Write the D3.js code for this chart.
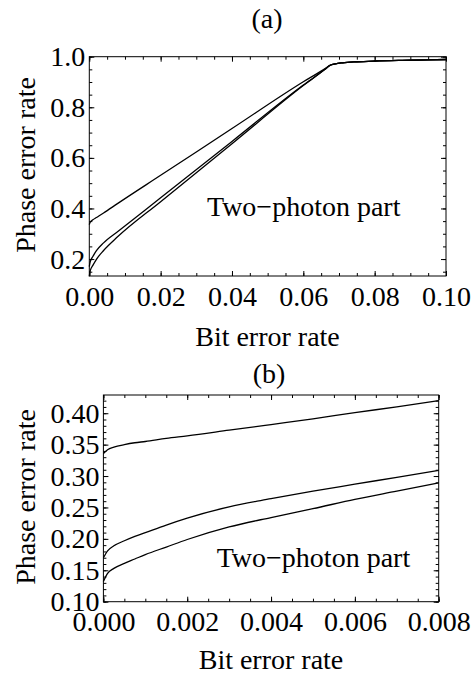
<!DOCTYPE html>
<html lang="en">
<head>
<meta charset="UTF-8">
<title>Two-photon part</title>
<script src="https://cdn.jsdelivr.net/npm/d3@7"></script>
<style>
  body { margin: 0; background: #fff; }
  text { font-family: "Liberation Serif", "DejaVu Serif", serif; font-size: 28px; fill: #000; }
</style>
</head>
<body>
<script>

// panel (a): bit error rate 0 .. 0.1
var xA  = [0, 0.00025, 0.001, 0.002, 0.004, 0.008, 0.02, 0.04, 0.06, 0.066, 0.0675, 0.069, 0.071, 0.075, 0.08, 0.09, 0.1];
var a1  = [0.336, 0.346, 0.355, 0.364, 0.382, 0.420, 0.531, 0.716, 0.901, 0.952, 0.966, 0.972, 0.976, 0.980, 0.983, 0.986, 0.989];
var a2  = [0.170, 0.189, 0.210, 0.233, 0.264, 0.309, 0.442, 0.665, 0.888, 0.949, 0.966, 0.972, 0.976, 0.980, 0.983, 0.986, 0.989];
var a3  = [0.132, 0.153, 0.175, 0.199, 0.234, 0.289, 0.427, 0.656, 0.886, 0.949, 0.966, 0.972, 0.976, 0.980, 0.983, 0.986, 0.989];

// panel (b): zoom on 0 .. 0.008
var xB  = [0, 0.0001, 0.00025, 0.0005, 0.00075, 0.001, 0.0015, 0.002, 0.003, 0.004, 0.005, 0.006, 0.007, 0.008];
var b1  = [0.336, 0.342, 0.346, 0.350, 0.353, 0.355, 0.360, 0.364, 0.373, 0.382, 0.391, 0.401, 0.410, 0.420];
var b2  = [0.170, 0.181, 0.189, 0.197, 0.204, 0.210, 0.222, 0.233, 0.251, 0.264, 0.276, 0.287, 0.298, 0.309];
var b3  = [0.132, 0.145, 0.153, 0.161, 0.168, 0.175, 0.187, 0.199, 0.219, 0.234, 0.248, 0.263, 0.276, 0.289];

// tick labels
var aXTicks = [0, 0.02, 0.04, 0.06, 0.08, 0.10];
var aYTicks = [0.2, 0.4, 0.6, 0.8, 1.0];
var bXTicks = [0, 0.002, 0.004, 0.006, 0.008];
var bYTicks = [0.10, 0.15, 0.20, 0.25, 0.30, 0.35, 0.40];

var svg = d3.select('body').append('svg')
  .attr('width', 474)
  .attr('height', 675);

function panel(o) {
  var x = d3.scaleLinear().domain(o.xDom).range([o.left, o.right]);
  var y = d3.scaleLinear().domain(o.yDom).range([o.bottom, o.top]);
  var g = svg.append('g');

  // minor ticks, all four sides, pointing in
  g.append('g').attr('transform', 'translate(0,' + o.bottom + ')')
    .call(d3.axisBottom(x).tickValues(o.xMinor).tickSize(-3).tickFormat(''));
  g.append('g').attr('transform', 'translate(0,' + o.top + ')')
    .call(d3.axisTop(x).tickValues(o.xMinor).tickSize(-3).tickFormat(''));
  g.append('g').attr('transform', 'translate(' + o.left + ',0)')
    .call(d3.axisLeft(y).tickValues(o.yMinor).tickSize(-3).tickFormat(''));
  g.append('g').attr('transform', 'translate(' + o.right + ',0)')
    .call(d3.axisRight(y).tickValues(o.yMinor).tickSize(-3).tickFormat(''));

  // major ticks
  g.append('g').attr('transform', 'translate(0,' + o.bottom + ')')
    .call(d3.axisBottom(x).tickValues(o.xTicks).tickSize(-5).tickPadding(o.xPad).tickFormat(d3.format(o.xFmt)));
  g.append('g').attr('transform', 'translate(0,' + o.top + ')')
    .call(d3.axisTop(x).tickValues(o.xTicks).tickSize(-5).tickFormat(''));
  g.append('g').attr('transform', 'translate(' + o.left + ',0)')
    .call(d3.axisLeft(y).tickValues(o.yTicks).tickSize(-5).tickPadding(4).tickFormat(d3.format(o.yFmt)));
  g.append('g').attr('transform', 'translate(' + o.right + ',0)')
    .call(d3.axisRight(y).tickValues(o.yTicks).tickSize(-5).tickFormat(''));

  g.selectAll('.domain').remove();
  g.selectAll('.tick line').attr('stroke', '#000');
  g.selectAll('.tick text')
    .style('font-family', '"Liberation Serif", serif')
    .style('font-size', '28px');

  g.append('rect')
    .attr('x', o.left).attr('y', o.top)
    .attr('width', o.right - o.left).attr('height', o.bottom - o.top)
    .attr('fill', 'none').attr('stroke', '#000').attr('stroke-width', 1);

  var line = d3.line()
    .x(function (d) { return x(d[0]); })
    .y(function (d) { return y(d[1]); })
    .curve(d3.curveMonotoneX);

  o.series.forEach(function (s) {
    g.append('path')
      .datum(o.xs.map(function (v, i) { return [v, s[i]]; }))
      .attr('fill', 'none')
      .attr('stroke', '#000')
      .attr('stroke-width', 1.3)
      .attr('d', line);
  });

  g.append('text').attr('x', o.titleX).attr('y', o.titleY)
    .attr('text-anchor', 'middle').text(o.title);
  g.append('text').attr('x', o.xLabX).attr('y', o.xLabY)
    .attr('text-anchor', 'middle').text('Bit error rate');
  g.append('text')
    .attr('transform', 'translate(35,' + o.yLabY + ') rotate(-90)')
    .attr('text-anchor', 'middle').text('Phase error rate');
  g.append('text').attr('x', o.noteX).attr('y', o.noteY)
    .text('Two\u2212photon part');
}

panel({
  xDom: [0, 0.1], yDom: [0.133, 1.0],
  left: 89.3, right: 446, top: 56.7, bottom: 276,
  xTicks: aXTicks, yTicks: aYTicks,
  xMinor: d3.range(0, 21).map(function (i) { return i * 0.005; }),
  yMinor: d3.range(3, 21).map(function (i) { return i * 0.05; }),
  xFmt: '.2f', yFmt: '.1f', xPad: 10,
  xs: xA, series: [a1, a2, a3],
  title: '(a)', titleX: 267, titleY: 28,
  xLabX: 267.5, xLabY: 346, yLabY: 165,
  noteX: 207, noteY: 216
});

panel({
  xDom: [0, 0.008], yDom: [0.10, 0.429],
  left: 103.4, right: 438.7, top: 395, bottom: 601.7,
  xTicks: bXTicks, yTicks: bYTicks,
  xMinor: d3.range(0, 17).map(function (i) { return i * 0.0005; }),
  yMinor: d3.range(10, 43).map(function (i) { return i * 0.01; }),
  xFmt: '.3f', yFmt: '.2f', xPad: 9,
  xs: xB, series: [b1, b2, b3],
  title: '(b)', titleX: 269, titleY: 383,
  xLabX: 271, xLabY: 669, yLabY: 497,
  noteX: 216.7, noteY: 567
});

</script>
</body>
</html>
